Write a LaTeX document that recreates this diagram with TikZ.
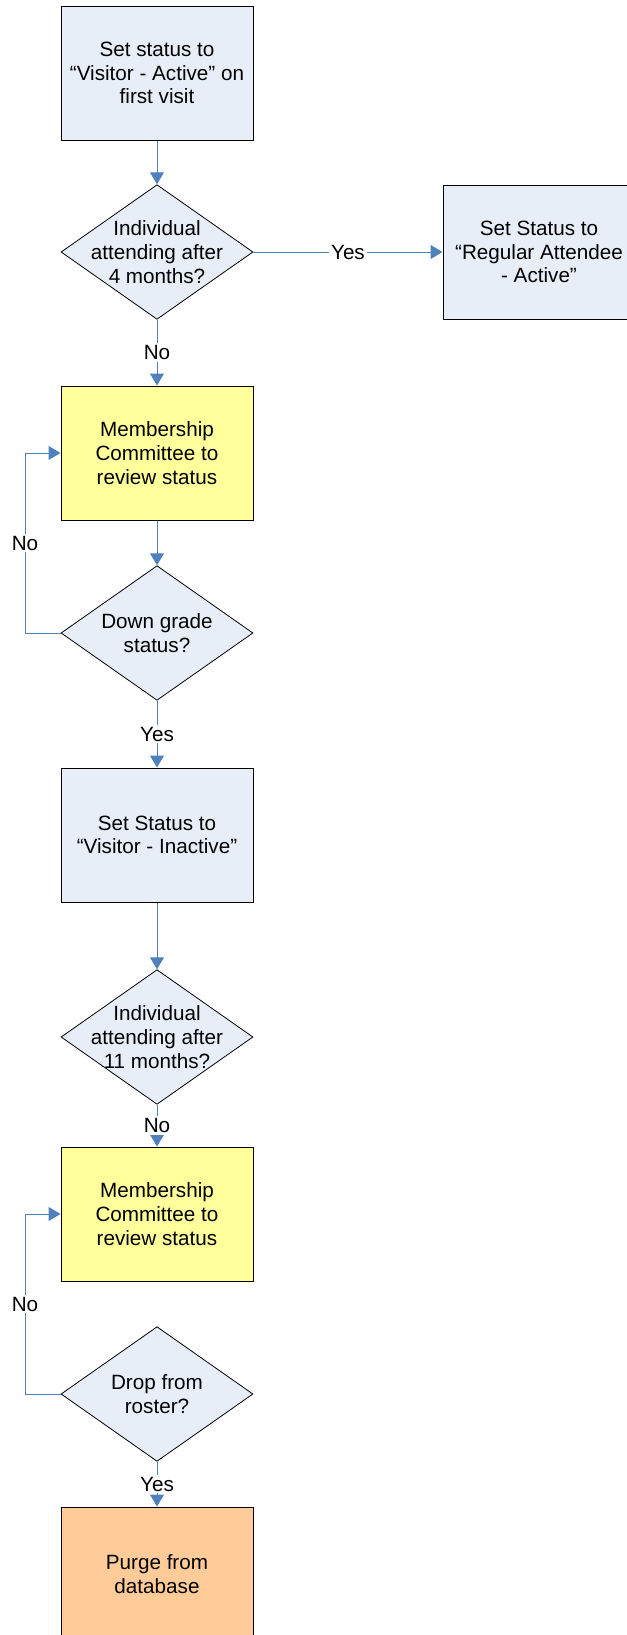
\documentclass[tikz,border=0pt]{standalone}
\usepackage{fontspec}
\setmainfont{Liberation Sans}
\usetikzlibrary{shapes.geometric,arrows.meta}
\definecolor{boxblue}{HTML}{E8EEF8}
\definecolor{boxyellow}{HTML}{FFFF9C}
\definecolor{boxorange}{HTML}{FFCC99}
\definecolor{lineblue}{HTML}{4F81BD}
\tikzstyle{txt}=[align=center,font=\fontsize{15.5pt}{17.8pt}\selectfont]
\tikzstyle{process}=[draw=black,line width=0.75pt,minimum width=144pt,minimum height=100.5pt,inner sep=0pt,txt]
\tikzstyle{decision}=[diamond,draw=black,line width=0.6pt,fill=boxblue,minimum width=144pt,minimum height=101pt,inner sep=0pt]
\tikzstyle{flow}=[draw=lineblue,line width=0.75pt,-{Triangle[width=10.5pt,length=9pt]}]
\tikzstyle{answer}=[fill=white,inner sep=1.5pt,txt]

\begin{document}
\begin{tikzpicture}[x=0.75pt,y=-0.75pt]
    \useasboundingbox (0,0) rectangle (626,1635);
    \foreach \pos/\name/\fillc/\txt in {{(157,73)/first/boxblue/{Set status to\\“Visitor - Active” on\\first visit}},
                            {(539,252)/regular/boxblue/{Set Status to\\“Regular Attendee\\- Active”}},
                            {(157,453)/review1/boxyellow/{Membership\\Committee to\\review status}},
                            {(157,835)/inactive/boxblue/{Set Status to\\“Visitor - Inactive”}},
                            {(157,1214)/review2/boxyellow/{Membership\\Committee to\\review status}},
                            {(157,1574)/purge/boxorange/{Purge from\\database}}}
        \node[process,fill=\fillc] (\name) at \pos {\txt};
    \foreach \pos/\name/\txt in {{(157,252)/attend1/{Individual\\attending after\\4 months?}},
                            {(157,633)/downgrade/{Down grade\\status?}},
                            {(157,1037)/attend2/{Individual\\attending after\\11 months?}},
                            {(157,1394)/drop/{Drop from\\roster?}}}
        \node[decision,label={[txt]center:\txt}] (\name) at \pos {};

    % straight flow
    \foreach \source/\dest in {first/attend1, review1/downgrade, inactive/attend2}
        \path[flow] (\source) -- (\dest);
    \foreach \source/\dest/\ans in {attend1/review1/No, downgrade/inactive/Yes,
                                    attend2/review2/No, drop/purge/Yes}
        \path[flow] (\source) -- node[answer] {\ans} (\dest);
    \path[flow] (attend1) -- node[answer] {Yes} (regular);

    % loops back to the committee
    \path[flow] (downgrade.west) -- (25,633) -- node[answer] {No} (25,453) -- (review1.west);
    \path[flow] (drop.west) -- (25,1394) -- node[answer] {No} (25,1214) -- (review2.west);
\end{tikzpicture}
\end{document}
